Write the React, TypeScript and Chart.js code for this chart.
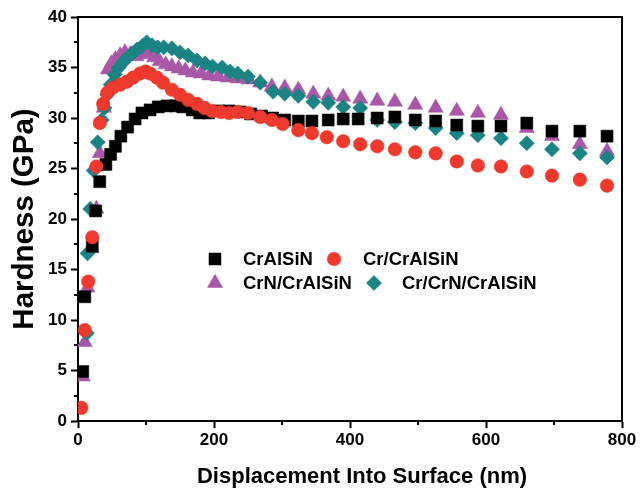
import React, { useEffect, useRef } from "react";
import { Chart, registerables } from "chart.js";
import { drawPoint } from "chart.js/helpers";

Chart.register(...registerables);

// ---- Data (Displacement nm, Hardness GPa) ----
const seriesNames = ["CrAlSiN", "Cr/CrAlSiN", "CrN/CrAlSiN", "Cr/CrN/CrAlSiN"];

const crAlSiN_x = [7, 10, 21, 26, 32, 41, 48, 55, 63, 73, 84, 94, 106, 118, 131, 143, 154, 168, 179, 192, 207, 222, 238, 254, 270, 286, 304, 324, 344, 368, 390, 412, 440, 466, 496, 526, 557, 588, 622, 660, 697, 738, 778];
const crAlSiN_y = [4.9, 12.3, 17.3, 20.8, 23.7, 25.4, 26.4, 27.2, 28.2, 29.1, 29.9, 30.5, 30.8, 31.1, 31.2, 31.2, 31.1, 30.8, 30.5, 30.5, 30.7, 30.7, 30.6, 30.4, 30.2, 30.0, 29.8, 29.7, 29.7, 29.8, 29.9, 29.9, 30.0, 30.1, 29.8, 29.7, 29.3, 29.2, 29.2, 29.5, 28.7, 28.7, 28.2];

const crCrAlSiN_x = [5, 10, 15, 21, 27, 32, 37, 43, 51, 62, 72, 81, 91, 99, 106, 116, 125, 138, 150, 162, 175, 186, 197, 210, 222, 235, 250, 268, 285, 301, 324, 344, 366, 390, 415, 440, 466, 496, 526, 557, 588, 622, 660, 697, 738, 778];
const crCrAlSiN_y = [1.3, 9.0, 13.8, 18.2, 25.2, 29.5, 31.4, 32.5, 33.0, 33.3, 33.6, 34.0, 34.4, 34.6, 34.4, 34.0, 33.5, 32.8, 32.3, 31.8, 31.4, 31.0, 30.7, 30.6, 30.5, 30.6, 30.5, 30.1, 29.8, 29.4, 28.8, 28.5, 28.1, 27.7, 27.4, 27.2, 26.9, 26.6, 26.5, 25.7, 25.3, 25.2, 24.7, 24.3, 23.9, 23.3];

const crNCrAlSiN_x = [7, 10, 14, 20, 27, 32, 38, 44, 49, 55, 62, 69, 77, 86, 95, 104, 112, 120, 129, 138, 148, 158, 169, 181, 193, 206, 220, 235, 251, 268, 285, 304, 324, 346, 368, 390, 415, 440, 466, 496, 526, 557, 588, 622, 660, 697, 738, 778];
const crNCrAlSiN_y = [4.4, 7.8, 13.2, 17.1, 21.0, 26.5, 31.0, 34.8, 35.4, 35.8, 36.2, 36.5, 36.3, 36.1, 36.3, 36.5, 36.0, 35.6, 35.3, 35.1, 34.9, 34.7, 34.5, 34.4, 34.2, 34.1, 34.0, 33.9, 33.8, 33.5, 33.1, 33.0, 32.8, 32.4, 32.2, 32.1, 31.9, 31.7, 31.6, 31.3, 31.0, 30.7, 30.5, 30.3, 29.0, 28.2, 27.4, 26.7];

const crCrNCrAlSiN_x = [13, 14, 18, 23, 29, 35, 39, 43, 48, 54, 60, 66, 73, 80, 87, 94, 101, 109, 117, 126, 138, 150, 162, 175, 187, 198, 212, 224, 235, 250, 268, 287, 304, 324, 346, 368, 390, 415, 440, 466, 496, 526, 557, 588, 622, 660, 697, 738, 778];
const crCrNCrAlSiN_y = [8.7, 16.6, 21.0, 24.8, 27.6, 29.8, 31.0, 32.3, 33.3, 34.3, 35.0, 35.5, 36.0, 36.4, 36.8, 37.1, 37.5, 37.2, 37.0, 37.0, 36.9, 36.5, 36.2, 35.7, 35.4, 35.1, 35.0, 34.6, 34.4, 34.1, 33.5, 32.6, 32.4, 32.2, 31.6, 31.5, 31.1, 31.0, 29.8, 29.6, 29.5, 29.0, 28.5, 28.3, 28.0, 27.5, 26.9, 26.5, 26.1];

const yMinorTicks = [2.5, 7.5, 12.5, 17.5, 22.5, 27.5, 32.5, 37.5];
const xMinorTicks = [100, 300, 500, 700];

const xTitle = "Displacement Into Surface (nm)";
const yTitle = "Hardness (GPa)";

// ---- Styles ----
const COLORS = ["#000000", "#EE3A2E", "#A858A6", "#1B8383"];
const STYLES = ["rect", "circle", "triangle", "rectRot"];
const RADII = [8.5, 6.8, 8.8, 7.6];
const ORDERS = [2, 1, 4, 3];
const FONT = '"Liberation Sans", Arial, Helvetica, sans-serif';

const zip = (xs: number[], ys: number[]) => xs.map((x, i) => ({ x, y: ys[i] }));

const overlayPlugin = {
  id: "overlay",
  afterDraw(chart: any) {
    const { ctx, chartArea: a, scales } = chart;
    ctx.save();
    // frame (top & right)
    ctx.strokeStyle = "#000";
    ctx.lineWidth = 2;
    ctx.beginPath();
    ctx.moveTo(a.left - 1, a.top);
    ctx.lineTo(a.right, a.top);
    ctx.lineTo(a.right, a.bottom + 1);
    ctx.stroke();
    // minor ticks
    ctx.beginPath();
    for (const v of yMinorTicks) {
      const p = Math.round(scales.y.getPixelForValue(v));
      ctx.moveTo(a.left - 4, p);
      ctx.lineTo(a.left, p);
    }
    for (const v of xMinorTicks) {
      const p = Math.round(scales.x.getPixelForValue(v));
      ctx.moveTo(p, a.bottom);
      ctx.lineTo(p, a.bottom + 4);
    }
    ctx.stroke();

    // legend
    const items = [
      { px: 215, py: 259, tx: 243 },
      { px: 334, py: 259, tx: 363 },
      { px: 215, py: 283, tx: 243 },
      { px: 374, py: 283, tx: 402 },
    ];
    ctx.font = `bold 18.5px ${FONT}`;
    ctx.textBaseline = "middle";
    ctx.textAlign = "left";
    items.forEach((it, i) => {
      ctx.fillStyle = COLORS[i];
      ctx.strokeStyle = COLORS[i];
      ctx.lineWidth = 0.5;
      drawPoint(ctx, { pointStyle: STYLES[i], radius: RADII[i], borderWidth: 0.5, rotation: 0 } as any, it.px, it.py);
      ctx.fillStyle = "#000";
      ctx.fillText(seriesNames[i], it.tx, it.py + 1);
    });

    // axis titles
    ctx.fillStyle = "#000";
    ctx.font = `bold 22px ${FONT}`;
    ctx.textAlign = "center";
    ctx.textBaseline = "middle";
    ctx.fillText(xTitle, 362, 477);

    ctx.translate(25, 219);
    ctx.rotate(-Math.PI / 2);
    ctx.font = `bold 29.5px ${FONT}`;
    ctx.fillText(yTitle, 0, 0);
    ctx.restore();
  },
};

export default function App() {
  const ref = useRef<HTMLCanvasElement>(null);

  useEffect(() => {
    if (!ref.current) return;
    const xs = [crAlSiN_x, crCrAlSiN_x, crNCrAlSiN_x, crCrNCrAlSiN_x];
    const ys = [crAlSiN_y, crCrAlSiN_y, crNCrAlSiN_y, crCrNCrAlSiN_y];
    const datasets = seriesNames.map((name, i) => ({
      label: name,
      data: zip(xs[i], ys[i]),
      showLine: false,
      pointStyle: STYLES[i],
      pointRadius: RADII[i],
      pointHoverRadius: RADII[i],
      backgroundColor: COLORS[i],
      borderColor: COLORS[i],
      pointBorderWidth: 0.5,
      order: ORDERS[i],
    }));

    const chart = new Chart(ref.current, {
      type: "scatter",
      data: { datasets },
      options: {
        responsive: false,
        animation: false,
        layout: { padding: { left: 0, top: 17, right: 19, bottom: 0 } },
        plugins: { legend: { display: false }, tooltip: { enabled: false } },
        scales: {
          x: {
            type: "linear",
            min: 0,
            max: 800,
            afterFit: (s: any) => { s.height = 73; },
            border: { display: true, color: "#000", width: 2 },
            grid: { display: true, drawOnChartArea: false, drawTicks: true, tickLength: 7, tickWidth: 2, tickColor: "#000" },
            ticks: { stepSize: 200, color: "#000", padding: 2, font: { family: FONT, size: 17, weight: "bold" } },
          },
          y: {
            type: "linear",
            min: 0,
            max: 40,
            afterFit: (s: any) => { s.width = 78; },
            border: { display: true, color: "#000", width: 2 },
            grid: { display: true, drawOnChartArea: false, drawTicks: true, tickLength: 7, tickWidth: 2, tickColor: "#000" },
            ticks: { stepSize: 5, color: "#000", padding: 4, font: { family: FONT, size: 17, weight: "bold" } },
          },
        },
      } as any,
      plugins: [overlayPlugin],
    });
    return () => chart.destroy();
  }, []);

  return (
    <div style={{ position: "absolute", left: 0, top: 0, width: 641, height: 494, background: "#fff" }}>
      <canvas ref={ref} width={641} height={494} />
    </div>
  );
}
